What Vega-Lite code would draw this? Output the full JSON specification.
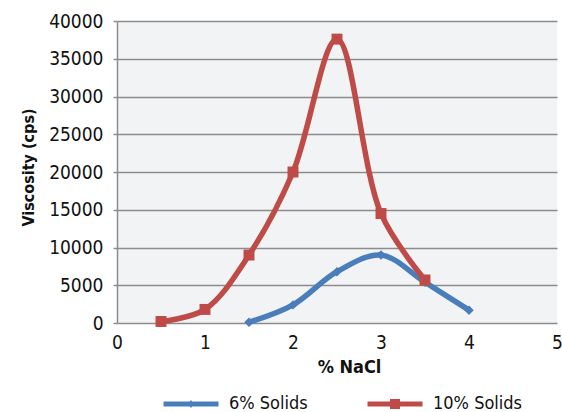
{
  "$schema": "https://vega.github.io/schema/vega-lite/v6.json",
  "width": 440,
  "height": 302,
  "autosize": {"type": "none"},
  "padding": {"left": 117, "top": 21, "right": 5, "bottom": 89},
  "background": "white",
  "config": {
    "view": {"fill": "#f2f3f5", "stroke": null},
    "font": "Liberation Sans Narrow, DejaVu Sans Condensed, sans-serif"
  },
  "data": {
    "values": [
      {"nacl": 1.5, "visc": 100, "series": "6% Solids"},
      {"nacl": 2.0, "visc": 2400, "series": "6% Solids"},
      {"nacl": 2.5, "visc": 6800, "series": "6% Solids"},
      {"nacl": 3.0, "visc": 9000, "series": "6% Solids"},
      {"nacl": 3.5, "visc": 5400, "series": "6% Solids"},
      {"nacl": 4.0, "visc": 1700, "series": "6% Solids"},
      {"nacl": 0.5, "visc": 200, "series": "10% Solids"},
      {"nacl": 1.0, "visc": 1800, "series": "10% Solids"},
      {"nacl": 1.5, "visc": 9000, "series": "10% Solids"},
      {"nacl": 2.0, "visc": 20000, "series": "10% Solids"},
      {"nacl": 2.5, "visc": 37600, "series": "10% Solids"},
      {"nacl": 3.0, "visc": 14500, "series": "10% Solids"},
      {"nacl": 3.5, "visc": 5700, "series": "10% Solids"}
    ]
  },
  "encoding": {
    "x": {
      "field": "nacl", "type": "quantitative",
      "scale": {"domain": [0, 5], "nice": false},
      "axis": {
        "title": "% NaCl", "values": [0, 1, 2, 3, 4, 5], "grid": false,
        "domain": false, "ticks": false, "labelPadding": 10,
        "labelFontSize": 19, "labelColor": "#111", "labelFlush": false,
        "titleFontSize": 18, "titleFontWeight": "bold", "titleColor": "#111",
        "titlePadding": 6, "titleX": 232
      }
    },
    "y": {
      "field": "visc", "type": "quantitative",
      "scale": {"domain": [0, 40000], "nice": false},
      "axis": {
        "title": "Viscosity (cps)", "values": [0, 5000, 10000, 15000, 20000, 25000, 30000, 35000, 40000],
        "format": "d", "grid": true, "gridColor": "#8c8c8c", "gridWidth": 1.5,
        "domain": true, "domainColor": "#8c8c8c", "domainWidth": 1.5,
        "ticks": true, "tickSize": 4, "tickColor": "#8c8c8c", "tickWidth": 1.5,
        "labelPadding": 10, "labelFontSize": 19, "labelColor": "#111",
        "titleFontSize": 16, "titleFontWeight": "bold", "titleColor": "#111",
        "titlePadding": 12, "titleY": 146
      }
    },
    "color": {
      "field": "series", "type": "nominal",
      "sort": ["6% Solids", "10% Solids"],
      "scale": {"domain": ["6% Solids", "10% Solids"], "range": ["#4a7ebb", "#be4b48"]},
      "legend": null
    }
  },
  "layer": [
    {
      "mark": {"type": "line", "interpolate": "catmull-rom", "strokeWidth": 5.5, "strokeCap": "round"},
      "encoding": {
        "color": {
          "field": "series", "type": "nominal",
          "sort": ["6% Solids", "10% Solids"],
          "scale": {"domain": ["6% Solids", "10% Solids"], "range": ["#4a7ebb", "#be4b48"]},
          "legend": {
            "title": null, "orient": "none", "direction": "horizontal",
            "legendX": 64, "legendY": 373, "padding": 0,
            "labelFontSize": 18, "labelColor": "#111",
            "symbolSize": 400, "columnPadding": 59, "labelOffset": 28,
            "symbolStrokeWidth": 0,
            "encode": {
              "symbols": {
                "update": {
                  "fill": {"scale": "color", "field": "value"},
                  "strokeWidth": {"value": 0},
                  "shape": {"signal": "datum.value === '6% Solids' ? 'M-2.75,-0.25L2.75,-0.25L2.75,0.25L-2.75,0.25Z M0,-0.4L0.3,0L0,0.4L-0.3,0Z' : 'M-2.75,-0.25L2.75,-0.25L2.75,0.25L-2.75,0.25Z M-0.5,-0.5L0.5,-0.5L0.5,0.5L-0.5,0.5Z'"}
                }
              }
            }
          }
        }
      }
    },
    {
      "transform": [{"filter": "datum.series === '6% Solids'"}],
      "mark": {"type": "point", "filled": true, "opacity": 1, "shape": "diamond", "size": 90}
    },
    {
      "transform": [{"filter": "datum.series === '10% Solids'"}],
      "mark": {"type": "point", "filled": true, "opacity": 1, "shape": "square", "size": 120}
    }
  ]
}
